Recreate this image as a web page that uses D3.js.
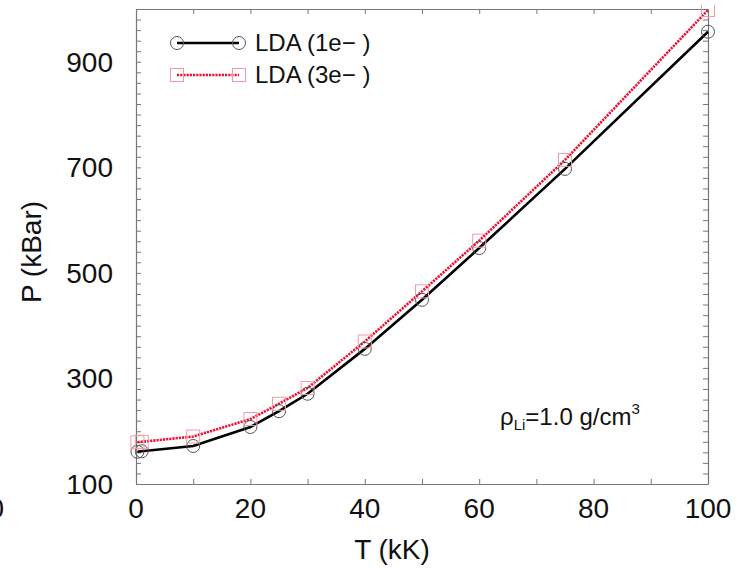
<!DOCTYPE html>
<html>
<head>
<meta charset="utf-8">
<script src="https://cdn.jsdelivr.net/npm/d3@7"></script>
<style>
  body { margin: 0; background: #fff; }
  text { font-family: "Liberation Sans", Arial, sans-serif; fill: #111; }
</style>
</head>
<body>
<div id="chart"></div>
<script>
// data
let temps = [0.25, 1, 10, 20, 25, 30, 40, 50, 60, 75, 100];
let p1e = [161, 162, 172, 208, 238, 271, 356, 449, 547, 697, 957];
let p3e = [179, 180, 190, 223, 252, 282, 370, 465, 561, 714, 998];
let xTickLabels = [0, 20, 40, 60, 80, 100];
let yTickLabels = [100, 300, 500, 700, 900];
let seriesNames = ["LDA (1e\u2212 )", "LDA (3e\u2212 )"];

let W = 740, H = 569;
let margin = {top: 9, left: 136, bottom: 85, right: 32};
let width = W - margin.left - margin.right;
let height = H - margin.top - margin.bottom;

let svg = d3.select("#chart").append("svg")
    .attr("width", W)
    .attr("height", H);

let g = svg.append("g")
    .attr("transform", `translate(${margin.left}, ${margin.top})`);

let xScale = d3.scaleLinear().domain([0, 100]).range([0, width]);
let yScale = d3.scaleLinear().domain([100, 1000]).range([height, 0]);

let tickColor = "#777";
let red = "#ee1133";

// frame with inward ticks on all four sides
let axes = [
  {axis: d3.axisBottom(xScale).tickValues(d3.range(0, 101, 10)), t: `translate(0, ${height})`},
  {axis: d3.axisTop(xScale).tickValues(d3.range(0, 101, 10)), t: "translate(0, 0)"},
  {axis: d3.axisLeft(yScale).tickValues(d3.range(100, 1001, 20)), t: "translate(0, 0)"},
  {axis: d3.axisRight(yScale).tickValues(d3.range(100, 1001, 20)), t: `translate(${width}, 0)`}
];
axes.forEach(a => {
  let ax = g.append("g")
      .attr("transform", a.t)
      .call(a.axis.tickSizeInner(-5).tickSizeOuter(0).tickFormat(""));
  ax.select(".domain").attr("stroke", tickColor).attr("stroke-width", 1.2);
  ax.selectAll(".tick line").attr("stroke", tickColor);
});

// tick labels
g.selectAll(".xlab")
  .data(xTickLabels)
  .enter().append("text")
    .attr("x", d => xScale(d))
    .attr("y", height + 34)
    .attr("text-anchor", "middle")
    .attr("font-size", 28)
    .text(d => d);

g.selectAll(".ylab")
  .data(yTickLabels)
  .enter().append("text")
    .attr("x", -23)
    .attr("y", d => yScale(d) + 10)
    .attr("text-anchor", "end")
    .attr("font-size", 28)
    .text(d => d);

// stray clipped label at far left edge (as in the reference)
svg.append("text")
    .attr("x", 4)
    .attr("y", margin.top + height + 34)
    .attr("text-anchor", "end")
    .attr("font-size", 28)
    .text("100");

// axis titles
svg.append("text")
    .attr("x", 392)
    .attr("y", 559)
    .attr("text-anchor", "middle")
    .attr("font-size", 28)
    .text("T (kK)");

svg.append("text")
    .attr("transform", "translate(41, 252) rotate(-90)")
    .attr("text-anchor", "middle")
    .attr("font-size", 28)
    .text("P (kBar)");

// lines
let line = (vals) => d3.line()
    .x((d, i) => xScale(temps[i]))
    .y((d) => yScale(d))(vals);

g.append("clipPath").attr("id", "clip")
  .append("rect").attr("x", -10).attr("y", -4).attr("width", width + 20).attr("height", height + 14);

let plot = g.append("g").attr("clip-path", "url(#clip)");

plot.append("path")
    .attr("d", line(p1e))
    .attr("fill", "none")
    .attr("stroke", "#000")
    .attr("stroke-width", 2.6);

plot.append("path")
    .attr("d", line(p3e))
    .attr("fill", "none")
    .attr("stroke", red)
    .attr("stroke-width", 2.6)
    .attr("stroke-dasharray", "2.2,1");

plot.selectAll(".c1")
  .data(p1e)
  .enter().append("circle")
    .attr("cx", (d, i) => xScale(temps[i]))
    .attr("cy", d => yScale(d))
    .attr("r", 6.5)
    .attr("fill", "none")
    .attr("stroke", "#555")
    .attr("stroke-width", 1);

plot.selectAll(".s3")
  .data(p3e)
  .enter().append("rect")
    .attr("x", (d, i) => xScale(temps[i]) - 6.5)
    .attr("y", d => yScale(d) - 6.5)
    .attr("width", 13)
    .attr("height", 13)
    .attr("fill", "none")
    .attr("stroke", "#f49aa6")
    .attr("stroke-width", 1);

// legend
let leg = svg.append("g");
let lx0 = 177, lx1 = 239;
[43, 75].forEach((ly, k) => {
  leg.append("line")
      .attr("x1", lx0).attr("x2", lx1)
      .attr("y1", ly).attr("y2", ly)
      .attr("stroke", k === 0 ? "#000" : red)
      .attr("stroke-width", 2.6)
      .attr("stroke-dasharray", k === 0 ? null : "2.2,1");
  [lx0, lx1].forEach(px => {
    if (k === 0) {
      leg.append("circle").attr("cx", px).attr("cy", ly).attr("r", 6.5)
          .attr("fill", "none").attr("stroke", "#555");
    } else {
      leg.append("rect").attr("x", px - 6.5).attr("y", ly - 6.5)
          .attr("width", 13).attr("height", 13)
          .attr("fill", "none").attr("stroke", "#f49aa6");
    }
  });
  leg.append("text")
      .attr("x", 255)
      .attr("y", ly + 8)
      .attr("font-size", 24)
      .text(seriesNames[k]);
});

// annotation
let ann = svg.append("text")
    .attr("x", 500)
    .attr("y", 425)
    .attr("font-size", 24);
ann.append("tspan").text("\u03c1");
ann.append("tspan").attr("font-size", 15).attr("dy", 5).text("Li");
ann.append("tspan").attr("dy", -5).text("=1.0 g/cm");
ann.append("tspan").attr("font-size", 15).attr("dy", -11).text("3");
</script>
</body>
</html>
